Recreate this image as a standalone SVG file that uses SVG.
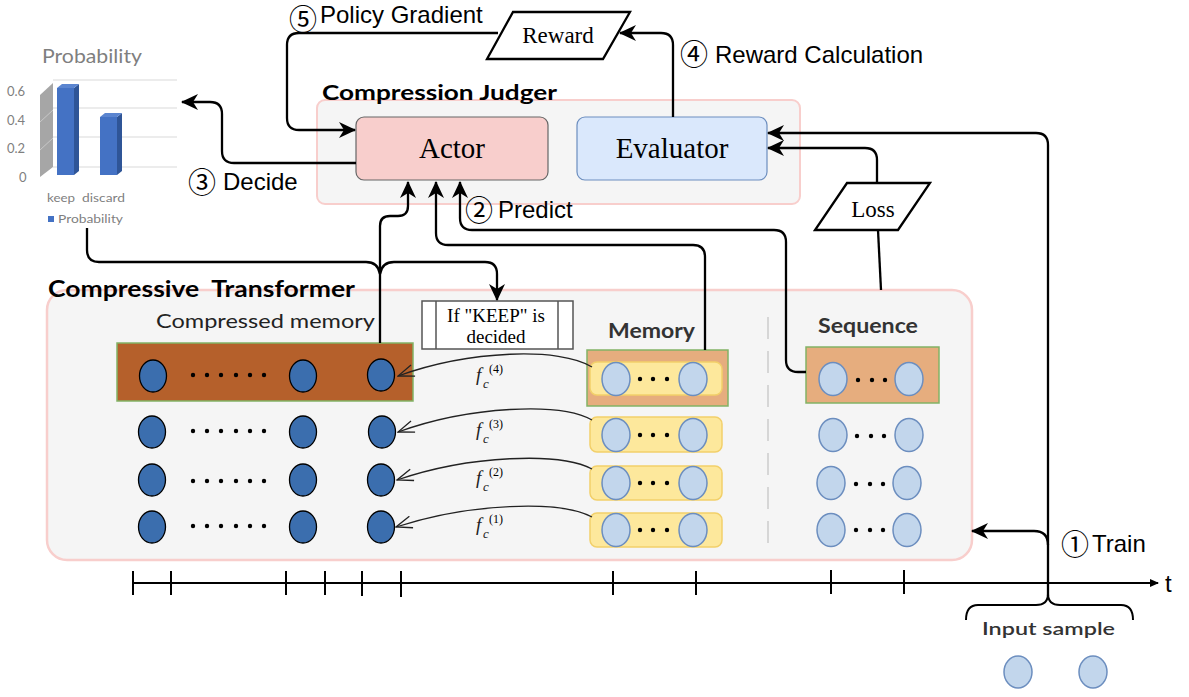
<svg xmlns="http://www.w3.org/2000/svg" width="1189" height="697" viewBox="0 0 1189 697">
<style>
.lbl{font-family:"Liberation Sans",Arial,sans-serif;font-size:24px;fill:#000}
.num{font-family:"Noto Sans CJK JP","DejaVu Sans",sans-serif;font-size:28px;fill:#000}
.cal{font-family:Lato,"Open Sans",sans-serif}
.ser{font-family:"Liberation Serif","Times New Roman",serif;fill:#000}
.con{fill:none;stroke:#000;stroke-width:2.3}
.fc{fill:none;stroke:#222;stroke-width:1.3}
.db{fill:#3b6eae;stroke:#000;stroke-width:1.3}
.lb{fill:#c2d6ec;stroke:#6c8ebf;stroke-width:1.5}
.dot{fill:#000}
.yel{fill:#fde89c;stroke:#f2d06a;stroke-width:1.5}
.org{fill:#e6ad7e;stroke:#82b366;stroke-width:1.5}
.tick{stroke:#000;stroke-width:2}
.fi{font-family:"Liberation Serif","Times New Roman",serif;font-style:italic;fill:#222}
</style>
<defs>
<marker id="arr" viewBox="0 0 17 16" refX="16" refY="8" markerWidth="17" markerHeight="16" markerUnits="userSpaceOnUse" orient="auto">
<path d="M0,0 L17,8 L0,16 L5,8 z" fill="#000"/>
</marker>
<marker id="sarr" viewBox="0 0 9 8" refX="8" refY="4" markerWidth="9" markerHeight="8" markerUnits="userSpaceOnUse" orient="auto">
<path d="M0,0 L9,4 L0,8 z" fill="#000"/>
</marker>
<marker id="open" viewBox="0 0 18 14" refX="17" refY="7" markerWidth="18" markerHeight="14" markerUnits="userSpaceOnUse" orient="auto">
<path d="M1,1 L17,7 L1,13" fill="none" stroke="#222" stroke-width="1.3"/>
</marker>
</defs>
<rect width="1189" height="697" fill="#fff"/>

<!-- Chart -->
<g id="chart">
<text class="cal" x="42" y="63" font-size="19" fill="#7f7f7f" textLength="100" lengthAdjust="spacingAndGlyphs">Probability</text>
<g stroke="#d9d9d9" stroke-width="1">
<line x1="53" y1="80" x2="177" y2="80"/>
<line x1="53" y1="108" x2="177" y2="108"/>
<line x1="53" y1="137" x2="177" y2="137"/>
<line x1="53" y1="167" x2="177" y2="167"/>
</g>
<polygon points="40,95 53,83 53,167 40,177" fill="#a6a6a6"/>
<g stroke="#c8c8c8" stroke-width="1"><line x1="40" y1="122" x2="53" y2="110"/><line x1="40" y1="150" x2="53" y2="138"/></g>
<rect x="57" y="88" width="17" height="87" fill="#4472c4"/>
<polygon points="74,88 79,84 79,171 74,175" fill="#2f5597"/>
<polygon points="57,88 62,84 79,84 74,88" fill="#5b85d0"/>
<rect x="100" y="117" width="17" height="58" fill="#4472c4"/>
<polygon points="117,117 122,113 122,171 117,175" fill="#2f5597"/>
<polygon points="100,117 105,113 122,113 117,117" fill="#5b85d0"/>
<g class="cal" font-size="13" fill="#7f7f7f">
<text x="7" y="96">0.6</text>
<text x="7" y="125">0.4</text>
<text x="7" y="153">0.2</text>
<text x="19" y="182">0</text>
<text x="47" y="202" font-size="12" textLength="28" lengthAdjust="spacingAndGlyphs">keep</text>
<text x="82" y="202" font-size="12" textLength="43" lengthAdjust="spacingAndGlyphs">discard</text>
<text x="58" y="223" font-size="12" textLength="65" lengthAdjust="spacingAndGlyphs">Probability</text>
</g>
<rect x="48" y="216" width="6" height="6" fill="#4472c4"/>
</g>

<!-- Compression Judger -->
<g id="judger">
<rect x="317" y="100" width="483" height="104" rx="8" fill="#f5f5f5" stroke="#f8cecc" stroke-width="2"/>
<text class="cal" x="322" y="100" font-size="21" font-weight="bold" textLength="235" lengthAdjust="spacingAndGlyphs">Compression Judger</text>
</g>
<g id="actor">
<rect x="356" y="117" width="192" height="63" rx="8" fill="#f8cecc" stroke="#666" stroke-width="1.2"/>
<text class="ser" x="452" y="158" font-size="29" text-anchor="middle">Actor</text>
</g>
<g id="evaluator">
<rect x="577" y="117" width="190" height="63" rx="8" fill="#dae8fc" stroke="#6c8ebf" stroke-width="1.2"/>
<text class="ser" x="672" y="158" font-size="29" text-anchor="middle">Evaluator</text>
</g>
<g id="reward">
<polygon points="513,12 630,12 603,59 487,59" fill="#fff" stroke="#000" stroke-width="2.3"/>
<text class="ser" x="558" y="43" font-size="23" text-anchor="middle">Reward</text>
</g>
<g id="loss">
<polygon points="847,183 930,183 898,230 815,230" fill="#fff" stroke="#000" stroke-width="2.3"/>
<text class="ser" x="873" y="217" font-size="23" text-anchor="middle">Loss</text>
</g>

<!-- Compressive Transformer -->
<g id="transformer">
<rect x="47" y="290" width="925" height="270" rx="20" fill="#f5f5f5" stroke="#f8cecc" stroke-width="2.5"/>
<text class="cal" x="48" y="297" font-size="23" font-weight="bold" textLength="307" lengthAdjust="spacingAndGlyphs" style="white-space:pre">Compressive  Transformer</text>
<line x1="768" y1="317" x2="768" y2="548" stroke="#d6d6d6" stroke-width="2" stroke-dasharray="22 12"/>
</g>

<g id="compressed-memory">
<text class="cal" x="156" y="328" font-size="20" fill="#222" textLength="219" lengthAdjust="spacingAndGlyphs">Compressed memory</text>
<rect x="117" y="343" width="296" height="58" fill="#b5602b" stroke="#82b366" stroke-width="1.5"/>
<ellipse class="db" cx="153" cy="376" rx="13.5" ry="16"/>
<ellipse class="db" cx="303" cy="376" rx="13.5" ry="16"/>
<ellipse class="db" cx="381" cy="375" rx="13.5" ry="16"/>
<ellipse class="db" cx="152" cy="432" rx="13.5" ry="16"/>
<ellipse class="db" cx="303" cy="432" rx="13.5" ry="16"/>
<ellipse class="db" cx="382" cy="432" rx="13.5" ry="16"/>
<ellipse class="db" cx="152" cy="480" rx="13.5" ry="16"/>
<ellipse class="db" cx="303" cy="480" rx="13.5" ry="16"/>
<ellipse class="db" cx="381" cy="480" rx="13.5" ry="16"/>
<ellipse class="db" cx="152" cy="527" rx="13.5" ry="16"/>
<ellipse class="db" cx="303" cy="527" rx="13.5" ry="16"/>
<ellipse class="db" cx="381" cy="527" rx="13.5" ry="16"/>
<g class="dot">
<circle cx="193" cy="375" r="2.2"/><circle cx="207" cy="375" r="2.2"/><circle cx="221" cy="375" r="2.2"/><circle cx="236" cy="375" r="2.2"/><circle cx="250" cy="375" r="2.2"/><circle cx="264" cy="375" r="2.2"/>
<circle cx="193" cy="431" r="2.2"/><circle cx="207" cy="431" r="2.2"/><circle cx="221" cy="431" r="2.2"/><circle cx="236" cy="431" r="2.2"/><circle cx="250" cy="431" r="2.2"/><circle cx="264" cy="431" r="2.2"/>
<circle cx="193" cy="481" r="2.2"/><circle cx="207" cy="481" r="2.2"/><circle cx="221" cy="481" r="2.2"/><circle cx="236" cy="481" r="2.2"/><circle cx="250" cy="481" r="2.2"/><circle cx="264" cy="481" r="2.2"/>
<circle cx="193" cy="526" r="2.2"/><circle cx="207" cy="526" r="2.2"/><circle cx="221" cy="526" r="2.2"/><circle cx="236" cy="526" r="2.2"/><circle cx="250" cy="526" r="2.2"/><circle cx="264" cy="526" r="2.2"/>
</g>
</g>

<g id="keep-box">
<rect x="422" y="301" width="151" height="48" fill="#fff" stroke="#555" stroke-width="1.5"/>
<line x1="436" y1="301" x2="436" y2="349" stroke="#555" stroke-width="1.5"/>
<line x1="558" y1="301" x2="558" y2="349" stroke="#555" stroke-width="1.5"/>
<text class="ser" x="496" y="322" font-size="19" text-anchor="middle">If "KEEP" is</text>
<text class="ser" x="496" y="343" font-size="19" text-anchor="middle">decided</text>
</g>

<g id="memory">
<text class="cal" x="608" y="338" font-size="20" font-weight="bold" fill="#333" textLength="87" lengthAdjust="spacingAndGlyphs">Memory</text>
<rect class="org" x="587" y="350" width="141" height="56"/>
<rect class="yel" x="590" y="362" width="132" height="33" rx="7"/>
<rect class="yel" x="590" y="417" width="132" height="35" rx="7"/>
<rect class="yel" x="590" y="466" width="132" height="34" rx="7"/>
<rect class="yel" x="590" y="513" width="132" height="34" rx="7"/>
<ellipse class="lb" cx="616" cy="379" rx="14" ry="16.5"/><ellipse class="lb" cx="693" cy="379" rx="14" ry="16.5"/>
<ellipse class="lb" cx="616" cy="435" rx="14" ry="16.5"/><ellipse class="lb" cx="693" cy="435" rx="14" ry="16.5"/>
<ellipse class="lb" cx="616" cy="483" rx="14" ry="16.5"/><ellipse class="lb" cx="693" cy="483" rx="14" ry="16.5"/>
<ellipse class="lb" cx="616" cy="530" rx="14" ry="16.5"/><ellipse class="lb" cx="693" cy="530" rx="14" ry="16.5"/>
<g class="dot">
<circle cx="640" cy="379" r="2.2"/><circle cx="653" cy="379" r="2.2"/><circle cx="667" cy="379" r="2.2"/>
<circle cx="640" cy="435" r="2.2"/><circle cx="653" cy="435" r="2.2"/><circle cx="667" cy="435" r="2.2"/>
<circle cx="640" cy="483" r="2.2"/><circle cx="653" cy="483" r="2.2"/><circle cx="667" cy="483" r="2.2"/>
<circle cx="640" cy="530" r="2.2"/><circle cx="653" cy="530" r="2.2"/><circle cx="667" cy="530" r="2.2"/>
</g>
</g>

<g id="sequence">
<text class="cal" x="818" y="333" font-size="20" font-weight="bold" fill="#333" textLength="100" lengthAdjust="spacingAndGlyphs">Sequence</text>
<rect class="org" x="806" y="347" width="133" height="56"/>
<ellipse class="lb" cx="833" cy="379" rx="14" ry="16.5"/><ellipse class="lb" cx="909" cy="379" rx="14" ry="16.5"/>
<ellipse class="lb" cx="833" cy="435" rx="14" ry="16.5"/><ellipse class="lb" cx="909" cy="435" rx="14" ry="16.5"/>
<ellipse class="lb" cx="831" cy="483" rx="14" ry="16.5"/><ellipse class="lb" cx="907" cy="483" rx="14" ry="16.5"/>
<ellipse class="lb" cx="831" cy="530" rx="14" ry="16.5"/><ellipse class="lb" cx="907" cy="530" rx="14" ry="16.5"/>
<g class="dot">
<circle cx="858" cy="380" r="2.2"/><circle cx="872" cy="380" r="2.2"/><circle cx="885" cy="380" r="2.2"/>
<circle cx="857" cy="436" r="2.2"/><circle cx="871" cy="436" r="2.2"/><circle cx="884" cy="436" r="2.2"/>
<circle cx="856" cy="484" r="2.2"/><circle cx="870" cy="484" r="2.2"/><circle cx="883" cy="484" r="2.2"/>
<circle cx="856" cy="530" r="2.2"/><circle cx="870" cy="530" r="2.2"/><circle cx="883" cy="530" r="2.2"/>
</g>
</g>

<g id="input-sample">
<path d="M966,620 Q966,605 978,605 H1036 Q1048,605 1048,594 Q1048,605 1060,605 H1121 Q1133,605 1133,620" fill="none" stroke="#000" stroke-width="2"/>
<text class="cal" x="982" y="635" font-size="18" font-weight="600" fill="#333" textLength="133" lengthAdjust="spacingAndGlyphs">Input sample</text>
<ellipse class="lb" cx="1018" cy="672" rx="14" ry="16"/>
<ellipse class="lb" cx="1093" cy="672" rx="14" ry="16"/>
</g>

<g id="timeline">
<line x1="133" y1="583" x2="1158" y2="583" stroke="#000" stroke-width="2" marker-end="url(#sarr)"/>
<g class="tick">
<line x1="133" y1="571" x2="133" y2="595"/><line x1="171" y1="571" x2="171" y2="595"/>
<line x1="286" y1="571" x2="286" y2="595"/><line x1="325" y1="571" x2="325" y2="595"/>
<line x1="362" y1="571" x2="362" y2="596"/><line x1="401" y1="571" x2="401" y2="597"/>
<line x1="613" y1="571" x2="613" y2="595"/><line x1="696" y1="571" x2="696" y2="595"/>
<line x1="831" y1="570" x2="831" y2="594"/><line x1="904" y1="570" x2="904" y2="594"/>
</g>
<text class="lbl" x="1165" y="592" font-size="22">t</text>
</g>

<!-- Connectors -->
<g id="connectors">
<path class="con" d="M673,117 V45 Q673,33 661,33 H620" marker-end="url(#arr)"/>
<path class="con" d="M498,33 H299 Q287,33 287,45 V118 Q287,130 299,130 H355" marker-end="url(#arr)"/>
<path class="con" d="M356,163 H234 Q222,163 222,151 V114 Q222,102 210,102 H182" marker-end="url(#arr)"/>
<path class="con" d="M380,343 V226 Q380,216 390,216 H398 Q408,216 408,206 V182" marker-end="url(#arr)"/>
<path class="con" d="M705,350 V257 Q705,245 693,245 H448 Q436,245 436,233 V182" marker-end="url(#arr)"/>
<path class="con" d="M806,372 H798 Q786,372 786,360 V242 Q786,230 774,230 H472 Q460,230 460,218 V182" marker-end="url(#arr)"/>
<path class="con" d="M87,228 V250 Q87,262 99,262 H366 Q378,262 380,274"/>
<path class="con" d="M380,274 Q382,262 394,262 H485 Q497,262 497,274 V300" marker-end="url(#arr)"/>
<path class="con" d="M878,230 L881,290"/>
<path class="con" d="M877,183 V160 Q877,148 865,148 H768" marker-end="url(#arr)"/>
<path class="con" d="M1048,596 V145 Q1048,133 1036,133 H768" marker-end="url(#arr)"/>
<path class="con" d="M1048,545 Q1048,531 1034,531 H972" marker-end="url(#arr)"/>
<path class="fc" d="M592,367 C560,347 470,350 398,376" marker-end="url(#open)"/>
<path class="fc" d="M592,420 C560,402 470,406 398,432" marker-end="url(#open)"/>
<path class="fc" d="M592,469 C560,452 470,455 397,480" marker-end="url(#open)"/>
<path class="fc" d="M592,517 C560,500 470,503 396,527" marker-end="url(#open)"/>
</g>

<!-- Labels -->
<g id="labels">
<text class="num" x="289" y="30" font-size="24">⑤</text><text class="lbl" x="320" y="23">Policy Gradient</text>
<text class="num" x="680" y="65">④</text><text class="lbl" x="715" y="63">Reward Calculation</text>
<text class="num" x="188" y="193">③</text><text class="lbl" x="223" y="190">Decide</text>
<text class="num" x="465" y="221">②</text><text class="lbl" x="498" y="218">Predict</text>
<text class="num" x="1061" y="555">①</text><text class="lbl" x="1092" y="552">Train</text>
<text class="fi" x="476" y="381" font-size="19">f</text><text class="fi" x="483" y="388" font-size="13">c</text><text class="ser" x="489" y="373" font-size="12" fill="#222">(4)</text>
<text class="fi" x="476" y="436" font-size="19">f</text><text class="fi" x="483" y="443" font-size="13">c</text><text class="ser" x="489" y="428" font-size="12" fill="#222">(3)</text>
<text class="fi" x="476" y="484" font-size="19">f</text><text class="fi" x="483" y="491" font-size="13">c</text><text class="ser" x="489" y="476" font-size="12" fill="#222">(2)</text>
<text class="fi" x="476" y="531" font-size="19">f</text><text class="fi" x="483" y="538" font-size="13">c</text><text class="ser" x="489" y="523" font-size="12" fill="#222">(1)</text>
</g>
</svg>
